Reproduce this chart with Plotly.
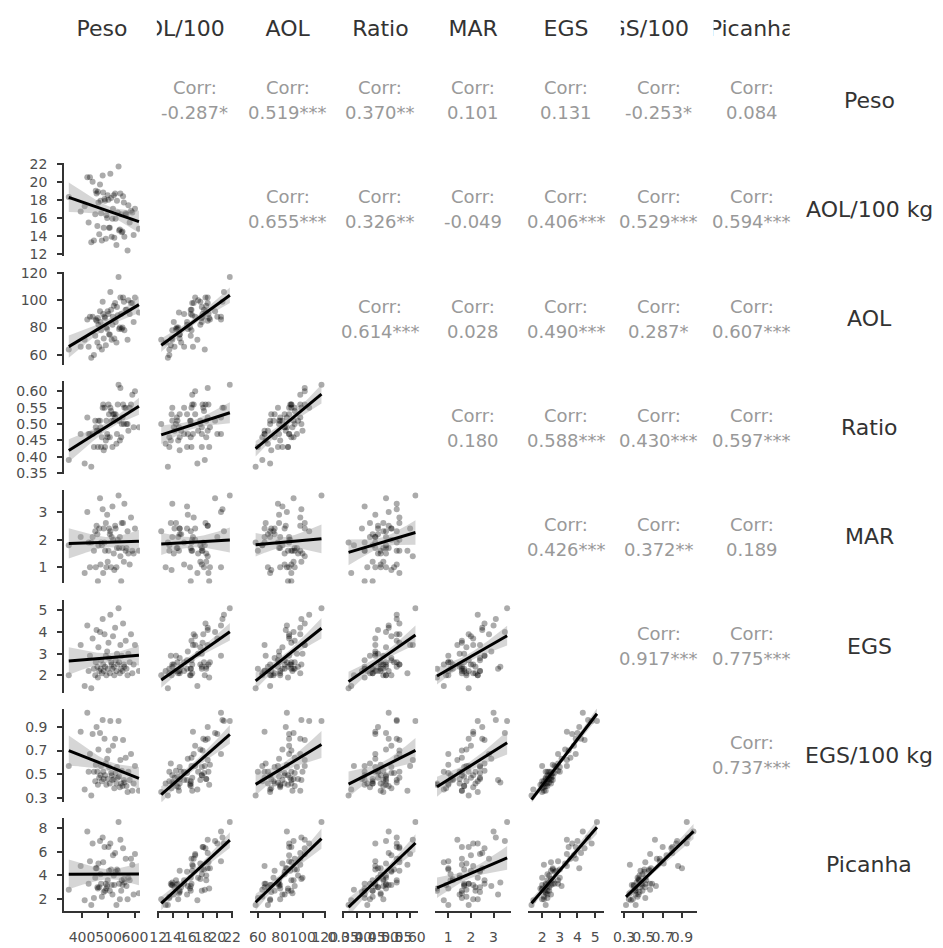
import numpy as np
import plotly.graph_objects as go

W, H = 943, 948
OFF = 8  # the page body adds an 8px margin; work in window pixels and shift
FW, FH = W - OFF, H - OFF

var_names = ["Peso", "AOL/100 kg", "AOL", "Ratio", "MAR", "EGS", "EGS/100 kg", "Picanha"]

peso = [350, 395, 410, 420, 425, 430, 435, 440, 445, 450, 452, 455, 458, 460, 462, 465,
        468, 470, 472, 475, 478, 480, 482, 485, 487, 490, 492, 495, 497, 500, 502, 505,
        507, 510, 512, 515, 517, 520, 522, 525, 527, 530, 532, 535, 538, 540, 543, 545,
        548, 550, 553, 555, 558, 560, 565, 568, 572, 575, 580, 585, 590, 595, 600, 615]
aol100 = [18.3, 16.7, 17.3, 20.5, 15.5, 20.5, 13.3, 20.0, 13.5, 16.4, 19.0, 18.7, 15.1, 18.9, 17.7, 14.2,
          19.7, 17.9, 16.5, 13.5, 20.7, 18.8, 14.9, 18.1, 17.9, 13.7, 16.3, 16.0, 18.5, 18.0, 14.9, 14.9,
          20.9, 18.2, 13.9, 15.9, 17.0, 18.5, 13.8, 18.7, 15.9, 13.0, 17.9, 16.6, 21.7, 14.6, 14.7, 18.7,
          16.4, 14.4, 14.5, 18.4, 17.7, 13.9, 16.5, 16.4, 12.4, 17.4, 15.5, 16.8, 16.6, 14.1, 17.0, 14.8]
aol = [64, 66, 71, 86, 66, 88, 58, 88, 60, 74, 86, 85, 69, 87, 82, 66,
       92, 84, 78, 64, 99, 90, 72, 88, 87, 67, 80, 79, 92, 90, 75, 75,
       106, 93, 71, 82, 88, 96, 72, 98, 84, 69, 95, 89, 117, 79, 80, 102,
       90, 79, 80, 102, 99, 78, 93, 93, 71, 100, 90, 98, 98, 84, 102, 91]
ratio = [0.39, 0.47, 0.38, 0.52, 0.47, 0.47, 0.37, 0.47, 0.43, 0.51, 0.49, 0.48, 0.48, 0.43, 0.51, 0.48,
         0.51, 0.49, 0.43, 0.46, 0.55, 0.56, 0.42, 0.55, 0.43, 0.45, 0.51, 0.47, 0.46, 0.56, 0.53, 0.46,
         0.55, 0.54, 0.51, 0.43, 0.53, 0.51, 0.53, 0.52, 0.53, 0.44, 0.47, 0.56, 0.62, 0.51, 0.45, 0.61,
         0.46, 0.50, 0.52, 0.56, 0.50, 0.55, 0.55, 0.50, 0.50, 0.48, 0.55, 0.56, 0.59, 0.49, 0.60, 0.49]
mar = [1.8, 2.1, 0.8, 3.0, 1.9, 1.0, 1.9, 2.1, 1.6, 2.3, 1.0, 2.5, 2.2, 0.5, 1.8, 2.4,
       3.5, 1.1, 1.9, 1.8, 3.1, 0.8, 2.4, 1.9, 1.6, 2.6, 1.0, 2.9, 1.2, 1.6, 2.4, 2.2,
       2.3, 1.0, 2.1, 3.2, 2.0, 1.5, 0.9, 2.5, 2.4, 1.0, 1.7, 2.0, 3.6, 1.7, 2.1, 1.4,
       0.5, 2.6, 1.7, 2.6, 1.2, 3.3, 1.6, 1.7, 2.3, 1.5, 1.1, 2.8, 1.6, 1.5, 2.4, 1.6]
egs = [2.0, 3.4, 1.5, 4.3, 2.2, 2.9, 1.4, 3.7, 2.3, 2.0, 2.6, 4.1, 2.4, 1.9, 3.3, 2.2,
       4.0, 2.3, 2.7, 2.1, 4.6, 2.5, 2.2, 3.9, 2.4, 2.9, 2.0, 3.1, 2.3, 3.5, 2.8, 2.1,
       4.8, 2.6, 2.5, 2.3, 3.8, 2.4, 2.0, 4.2, 2.7, 2.2, 3.0, 2.5, 5.1, 2.6, 2.1, 3.4,
       2.3, 2.9, 2.2, 4.4, 2.5, 2.4, 3.6, 2.3, 2.0, 3.0, 2.6, 3.9, 2.1, 2.5, 3.4, 2.2]
egs100 = [0.57, 0.86, 0.37, 1.02, 0.52, 0.67, 0.32, 0.84, 0.52, 0.44, 0.58, 0.90, 0.52, 0.41, 0.71, 0.47,
          0.85, 0.49, 0.57, 0.44, 0.96, 0.52, 0.46, 0.80, 0.49, 0.59, 0.41, 0.63, 0.46, 0.70, 0.56, 0.42,
          0.95, 0.51, 0.49, 0.45, 0.74, 0.46, 0.38, 0.80, 0.51, 0.42, 0.56, 0.47, 0.95, 0.48, 0.39, 0.62,
          0.42, 0.53, 0.40, 0.79, 0.45, 0.43, 0.64, 0.40, 0.35, 0.52, 0.45, 0.67, 0.36, 0.42, 0.57, 0.36]
picanha = [2.8, 4.8, 1.9, 7.7, 3.3, 5.2, 1.5, 6.7, 2.1, 3.8, 4.6, 4.6, 3.0, 2.9, 5.0, 3.0,
           6.9, 4.1, 3.3, 2.2, 7.2, 5.1, 2.6, 6.4, 2.7, 3.3, 2.9, 3.1, 3.6, 6.4, 4.4, 2.7,
           6.7, 4.5, 3.2, 2.4, 5.7, 4.0, 3.2, 5.9, 4.3, 1.5, 4.5, 4.4, 8.5, 3.3, 2.0, 7.0,
           2.7, 3.6, 3.2, 6.3, 3.7, 3.4, 5.4, 3.1, 2.0, 3.8, 3.6, 5.4, 4.9, 2.4, 5.8, 2.5]

# correlation labels (upper triangle), row -> list for columns row+1..7
corr_labels = [
    ["-0.287*", "0.519***", "0.370**", "0.101", "0.131", "-0.253*", "0.084"],
    ["0.655***", "0.326**", "-0.049", "0.406***", "0.529***", "0.594***"],
    ["0.614***", "0.028", "0.490***", "0.287*", "0.607***"],
    ["0.180", "0.588***", "0.430***", "0.597***"],
    ["0.426***", "0.372**", "0.189"],
    ["0.917***", "0.775***"],
    ["0.737***"],
]

axis_ranges = [[332, 619], [11.8, 22.1], [52.6, 120.7], [0.347, 0.631],
               [0.42, 3.78], [1.2, 5.5], [0.266, 1.054], [1.0, 8.84]]
tick_vals = [[400, 500, 600], [12, 14, 16, 18, 20, 22], [60, 80, 100, 120],
             [0.35, 0.40, 0.45, 0.50, 0.55, 0.60], [1, 2, 3], [2, 3, 4, 5],
             [0.3, 0.5, 0.7, 0.9], [2, 4, 6, 8]]
tick_text = [["400", "500", "600"], ["12", "14", "16", "18", "20", "22"], ["60", "80", "100", "120"],
             ["0.35", "0.40", "0.45", "0.50", "0.55", "0.60"], ["1", "2", "3"], ["2", "3", "4", "5"],
             ["0.3", "0.5", "0.7", "0.9"], ["2", "4", "6", "8"]]

data = [peso, aol100, aol, ratio, mar, egs, egs100, picanha]
N = len(var_names)

FONT = "DejaVu Sans"
COL_LEFT0, COL_STEP, COL_W = 64.0, 92.8, 76.0
ROW_TOP0, ROW_STEP, ROW_H = 53.6, 109.2, 93.0


def px(xw):
    return (xw - OFF) / FW


def py(yw):
    return 1 - (yw - OFF) / FH


def xdom(j):
    left = COL_LEFT0 + j * COL_STEP
    return [px(left), px(left + COL_W)]


def ydom(i):
    top = ROW_TOP0 + i * ROW_STEP
    return [py(top + ROW_H), py(top)]


fig = go.Figure()
layout = dict(template="none", width=FW, height=FH, margin=dict(l=0, r=0, t=0, b=0, pad=0),
              paper_bgcolor="white", plot_bgcolor="white", showlegend=False,
              font=dict(family=FONT), hovermode=False)

AXCOL = "#333333"
k = 0
for i in range(N):
    for j in range(i):
        k += 1
        xname = "xaxis" if k == 1 else f"xaxis{k}"
        yname = "yaxis" if k == 1 else f"yaxis{k}"
        xref = "x" if k == 1 else f"x{k}"
        yref = "y" if k == 1 else f"y{k}"
        bottom = (i == N - 1)
        leftc = (j == 0)
        layout[xname] = dict(domain=xdom(j), anchor=yref, range=axis_ranges[j], automargin=False,
                             showgrid=False, zeroline=False, fixedrange=True,
                             showline=bottom, linecolor=AXCOL, linewidth=1.6,
                             ticks="outside" if bottom else "", ticklen=5, tickwidth=1.6,
                             tickcolor=AXCOL, tickvals=tick_vals[j], ticktext=tick_text[j],
                             showticklabels=bottom, tickangle=0, ticklabelstandoff=7,
                             tickfont=dict(family=FONT, size=14, color="#4d4d4d"))
        layout[yname] = dict(domain=ydom(i), anchor=xref, range=axis_ranges[i], automargin=False,
                             showgrid=False, zeroline=False, fixedrange=True,
                             showline=leftc, linecolor=AXCOL, linewidth=1.6,
                             ticks="outside" if leftc else "", ticklen=5, tickwidth=1.6,
                             tickcolor=AXCOL, tickvals=tick_vals[i], ticktext=tick_text[i],
                             showticklabels=leftc, ticklabelstandoff=7,
                             tickfont=dict(family=FONT, size=14, color="#4d4d4d"))

        x = np.array(data[j], dtype=float)
        y = np.array(data[i], dtype=float)
        n = len(x)
        b, a = np.polyfit(x, y, 1)
        xs = np.linspace(x.min(), x.max(), 60)
        yh = a + b * xs
        res = y - (a + b * x)
        s = np.sqrt(np.sum(res ** 2) / (n - 2))
        xm = x.mean()
        sxx = np.sum((x - xm) ** 2)
        se = s * np.sqrt(1.0 / n + (xs - xm) ** 2 / sxx)
        tq = 1.999
        lo = yh - tq * se
        hi = yh + tq * se

        fig.add_trace(go.Scatter(x=x, y=y, mode="markers", xaxis=xref, yaxis=yref,
                                 marker=dict(size=6, color="rgba(0,0,0,0.33)", line=dict(width=0))))
        fig.add_trace(go.Scatter(x=np.concatenate([xs, xs[::-1]]), y=np.concatenate([hi, lo[::-1]]),
                                 mode="lines", fill="toself", fillcolor="rgba(153,153,153,0.4)",
                                 line=dict(width=0), xaxis=xref, yaxis=yref))
        fig.add_trace(go.Scatter(x=xs, y=yh, mode="lines", line=dict(color="black", width=3),
                                 xaxis=xref, yaxis=yref))

# top strips: text clipped to the column width
for j in range(N):
    k += 1
    xname, yname = f"xaxis{k}", f"yaxis{k}"
    xref, yref = f"x{k}", f"y{k}"
    left = COL_LEFT0 + j * COL_STEP
    layout[xname] = dict(domain=[px(left), px(left + COL_W)], anchor=yref, range=[0, 1],
                         visible=False, fixedrange=True, automargin=False)
    layout[yname] = dict(domain=[py(46), py(14)], anchor=xref, range=[0, 1],
                         visible=False, fixedrange=True, automargin=False)
    fig.add_trace(go.Scatter(x=[0.5], y=[0.5], mode="text", text=[var_names[j]],
                             textposition="middle center", cliponaxis=True,
                             textfont=dict(family=FONT, size=22, color="#333333"),
                             xaxis=xref, yaxis=yref))

annotations = []
# right strips
for i in range(N):
    cy = ROW_TOP0 + i * ROW_STEP + ROW_H / 2
    annotations.append(dict(x=px(869), y=py(cy), xref="paper", yref="paper",
                            text=var_names[i], showarrow=False, xanchor="center", yanchor="middle",
                            font=dict(family=FONT, size=22, color="#333333")))

# correlation text
for i in range(N - 1):
    cy = ROW_TOP0 + i * ROW_STEP + ROW_H / 2
    for m, lab in enumerate(corr_labels[i]):
        j = i + 1 + m
        cx = COL_LEFT0 + j * COL_STEP + COL_W / 2
        annotations.append(dict(x=px(cx), y=py(cy - 12.5), xref="paper", yref="paper",
                                text="Corr:", showarrow=False, xanchor="center", yanchor="middle",
                                font=dict(family=FONT, size=18, color="#999999")))
        annotations.append(dict(x=px(cx), y=py(cy + 12.5), xref="paper", yref="paper",
                                text=lab, showarrow=False, xanchor="center", yanchor="middle",
                                font=dict(family=FONT, size=18, color="#999999")))

layout["annotations"] = annotations
fig.update_layout(**layout)
fig.write_html("out.html")
